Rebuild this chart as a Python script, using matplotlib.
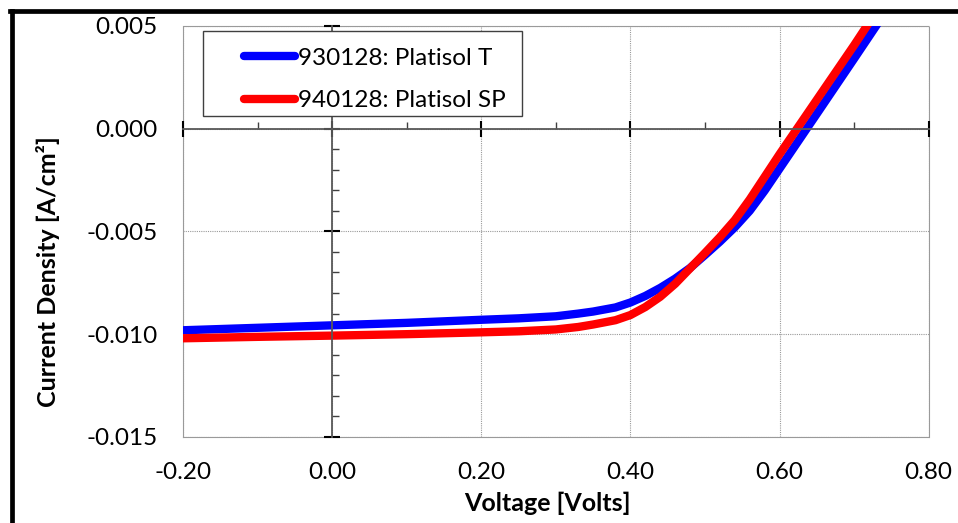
import matplotlib
matplotlib.use("Agg")
import matplotlib.pyplot as plt
from matplotlib.ticker import MultipleLocator, FormatStrFormatter
from matplotlib.lines import Line2D
from matplotlib.patches import Rectangle

plt.rcParams['font.family'] = ['Lato', 'DejaVu Sans']
plt.rcParams['axes.unicode_minus'] = False

# data
voltage = [-0.20, -0.10, 0.00, 0.10, 0.20, 0.25, 0.30, 0.33, 0.35, 0.38, 0.40, 0.42,
           0.44, 0.46, 0.48, 0.50, 0.52, 0.54, 0.56, 0.58, 0.60, 0.65, 0.70, 0.75]
j_930128 = [-0.00981, -0.00969, -0.00957, -0.00945, -0.00930, -0.00923, -0.00913, -0.00900,
            -0.00890, -0.00870, -0.00846, -0.00814, -0.00775, -0.00730, -0.00678, -0.00615,
            -0.00550, -0.00480, -0.00400, -0.00302, -0.00195, 0.00072, 0.00340, 0.00610]
j_940128 = [-0.01020, -0.01013, -0.01007, -0.01000, -0.00991, -0.00986, -0.00977, -0.00965,
            -0.00953, -0.00932, -0.00907, -0.00868, -0.00818, -0.00755, -0.00680, -0.00605,
            -0.00528, -0.00445, -0.00345, -0.00235, -0.00125, 0.00140, 0.00405, 0.00680]
labels = ['930128: Platisol T', '940128: Platisol SP']
colors = ['#0000FF', '#FF0000']

W, H = 958, 523
x0, x1, y0, y1 = 183, 928.7, 25.7, 437
rect = [x0 / W, 1 - y1 / H, (x1 - x0) / W, (y1 - y0) / H]

fig = plt.figure(figsize=(W / 100, H / 100), dpi=100)

# background axes: grid, dotted frame, outer tick labels
ax = fig.add_axes(rect)
ax.set_xlim(-0.2, 0.8)
ax.set_ylim(-0.015, 0.005)
ax.xaxis.set_major_locator(MultipleLocator(0.2))
ax.yaxis.set_major_locator(MultipleLocator(0.005))
ax.xaxis.set_major_formatter(FormatStrFormatter('%.2f'))
ax.yaxis.set_major_formatter(FormatStrFormatter('%.3f'))
ax.tick_params(length=0, labelsize=17.5, pad=18, colors='black')
ax.grid(True, color='#9a9a9a', linestyle=(0, (1, 1)), linewidth=0.8)
for s in ax.spines.values():
    s.set_color('#9a9a9a')
    s.set_linestyle((0, (1, 1)))
    s.set_linewidth(0.8)

# foreground axes: axis lines through zero, curves, legend
ax2 = fig.add_axes(rect)
ax2.patch.set_visible(False)
ax2.set_xlim(-0.2, 0.8)
ax2.set_ylim(-0.015, 0.005)
ax2.spines['left'].set_position(('data', 0))
ax2.spines['bottom'].set_position(('data', 0))
ax2.spines['top'].set_visible(False)
ax2.spines['right'].set_visible(False)
for k in ['left', 'bottom']:
    ax2.spines[k].set_color('#595959')
    ax2.spines[k].set_linewidth(1.3)
ax2.xaxis.set_major_locator(MultipleLocator(0.2))
ax2.xaxis.set_minor_locator(MultipleLocator(0.1))
ax2.yaxis.set_major_locator(MultipleLocator(0.005))
ax2.yaxis.set_minor_locator(MultipleLocator(0.001))
ax2.tick_params(which='major', direction='inout', length=12, width=1.5, color='black',
                labelleft=False, labelbottom=False)
ax2.tick_params(which='minor', direction='in', length=5, width=1.0, color='#404040')

ax2.plot(voltage, j_930128, color=colors[0], lw=6, solid_capstyle='round',
         solid_joinstyle='round', label=labels[0])
ax2.plot(voltage, j_940128, color=colors[1], lw=6, solid_capstyle='round',
         solid_joinstyle='round', label=labels[1])

# legend box
def ax_frac(px, py):
    return ((px - x0) / (x1 - x0), (y1 - py) / (y1 - y0))

lx, ly = ax_frac(203, 116)
rx, ry = ax_frac(522, 31)
ax2.add_patch(Rectangle((lx, ly), rx - lx, ry - ly, transform=ax2.transAxes,
                        facecolor='white', edgecolor='#404040', lw=1.0, zorder=5))
bx, by = ax_frac(222.5, 26)
leg = ax2.legend(loc='upper left', bbox_to_anchor=(bx, by), frameon=False, fontsize=17.5,
                 handlelength=2.1, handletextpad=0.12, labelspacing=0.88, borderpad=0.4)
leg.set_zorder(6)
for h in leg.get_lines():
    h.set_solid_capstyle('round')

fig.text(48 / W, 1 - 272 / H, 'Current Density [A/cm²]', rotation=90, fontsize=18,
         fontweight='bold', ha='center', va='center')
fig.text(547 / W, 1 - 503 / H, 'Voltage [Volts]', fontsize=18, fontweight='bold',
         ha='center', va='center')

# outer frame (left and top edges)
fig.add_artist(Line2D([11.7 / W, 11.7 / W], [0, 1 - 10.8 / H], color='black', lw=3.4,
                      transform=fig.transFigure))
fig.add_artist(Line2D([9.5 / W, 1], [1 - 10.8 / H, 1 - 10.8 / H], color='black', lw=3.4,
                      transform=fig.transFigure))

fig.savefig('out.png', dpi=100)
